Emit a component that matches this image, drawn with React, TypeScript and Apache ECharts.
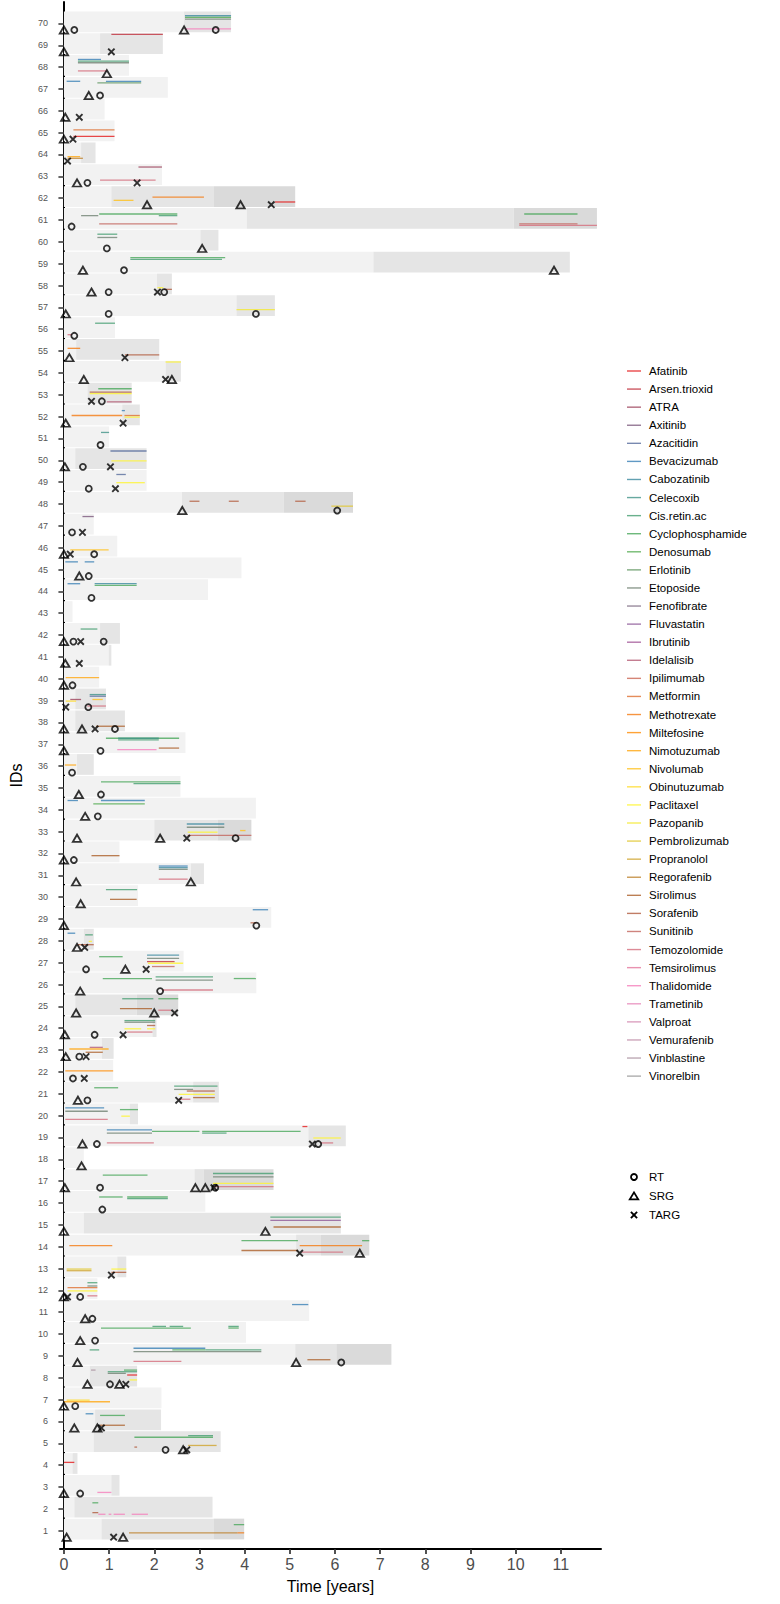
import React, { useEffect, useRef } from "react";
import * as echarts from "echarts";

const drugNames = [
  "Afatinib", "Arsen.trioxid", "ATRA", "Axitinib", "Azacitidin", "Bevacizumab", "Cabozatinib", "Celecoxib",
  "Cis.retin.ac", "Cyclophosphamide", "Denosumab", "Erlotinib", "Etoposide", "Fenofibrate", "Fluvastatin",
  "Ibrutinib", "Idelalisib", "Ipilimumab", "Metformin", "Methotrexate", "Miltefosine", "Nimotuzumab",
  "Nivolumab", "Obinutuzumab", "Paclitaxel", "Pazopanib", "Pembrolizumab", "Propranolol", "Regorafenib",
  "Sirolimus", "Sorafenib", "Sunitinib", "Temozolomide", "Temsirolimus", "Thalidomide", "Trametinib",
  "Valproat", "Vemurafenib", "Vinblastine", "Vinorelbin",
];

const markerNames = ["RT", "SRG", "TARG"];
const xTicks = [0, 1, 2, 3, 4, 5, 6, 7, 8, 9, 10, 11];
const idTicks = Array.from({ length: 70 }, (_, i) => i + 1);

// [id, start, end, level]
const bgSegments: number[][] = [
  [70,0,2.66,0],[70,2.66,3.7,1],
  [69,0,0.8,0],[69,0.8,2.19,1],
  [68,0,1.44,0],
  [67,0,2.3,0],
  [66,0,0.9,0],
  [65,0,1.12,0],
  [64,0,0.38,0],[64,0.38,0.7,1],
  [63,0,2.17,0],
  [62,0,1.05,0],[62,1.05,3.32,1],[62,3.32,5.12,2],
  [61,0,4.05,0],[61,4.05,9.96,1],[61,9.96,11.8,2],
  [60,0,3.02,0],[60,3.02,3.42,1],
  [59,0,6.85,0],[59,6.85,11.2,1],
  [58,0,2.06,0],[58,2.06,2.39,1],
  [57,0,3.82,0],[57,3.82,4.67,1],
  [56,0,1.13,0],
  [55,0,0.27,0],[55,0.27,2.11,1],
  [54,0,2.25,0],[54,2.25,2.59,1],
  [53,0,0.52,0],[53,0.52,1.5,1],
  [52,0,1.29,0],[52,1.29,1.68,1],
  [51,0,1.0,0],
  [50,0,0.25,0],[50,0.25,1.83,1],
  [49,0,1.83,0],
  [48,0,2.61,0],[48,2.61,4.86,1],[48,4.86,6.4,2],
  [47,0,0.66,0],
  [46,0,1.18,0],
  [45,0,3.93,0],
  [44,0,3.19,0],
  [43,0,0.19,0],
  [42,0,0.8,0],[42,0.8,1.24,1],
  [41,0,0.99,0],[41,0.99,1.05,1],
  [40,0,0.78,0],
  [39,0,0.25,0],[39,0.25,0.93,1],
  [38,0,0.25,0],[38,0.25,1.35,1],
  [37,0,2.69,0],
  [36,0,0.29,0],[36,0.29,0.66,1],
  [35,0,2.58,0],
  [34,0,4.25,0],
  [33,0,2.0,0],[33,2.0,3.4,1],[33,3.4,4.15,2],
  [32,0,1.23,0],
  [31,0,2.81,0],[31,2.81,3.1,1],
  [30,0,1.64,0],
  [29,0,4.59,0],
  [28,0,0.44,0],[28,0.44,0.66,1],
  [27,0,2.65,0],
  [26,0,4.26,0],
  [25,0,0.25,0],[25,0.25,1.61,1],[25,1.61,2.53,2],
  [24,0,1.96,0],[24,1.96,2.05,1],
  [23,0,0.84,0],[23,0.84,1.1,1],
  [22,0,1.09,0],
  [21,0,2.86,0],[21,2.86,3.43,1],
  [20,0,1.46,0],[20,1.46,1.64,1],
  [19,0,5.41,0],[19,5.41,6.24,1],
  [18,0,0.44,0],
  [17,0,2.89,0],[17,2.89,3.1,1],[17,3.1,4.64,2],
  [16,0,3.13,0],
  [15,0,0.44,0],[15,0.44,6.13,1],
  [14,0,5.14,0],[14,5.14,5.69,1],[14,5.69,6.76,2],
  [13,0,1.18,0],[13,1.18,1.38,1],
  [12,0,0.74,0],
  [11,0,5.43,0],
  [10,0,4.03,0],
  [9,0,5.12,0],[9,5.12,6.03,1],[9,6.03,7.25,2],
  [8,0,0.57,0],[8,0.57,1.62,1],
  [7,0,2.16,0],
  [6,0,0.69,0],[6,0.69,2.15,1],
  [5,0,0.66,0],[5,0.66,3.47,1],
  [4,0,0.19,0],[4,0.19,0.3,1],
  [3,0,1.05,0],[3,1.05,1.23,1],
  [2,0,0.23,0],[2,0.23,3.29,1],
  [1,0,0.83,0],[1,0.83,3.32,1],[1,3.32,3.99,2],
];

// [id, drug, start, end, lane]
const drugLines: [number, string, number, number, number][] = [
  [70,"Cabozatinib",2.68,3.7,2],[70,"Denosumab",2.68,3.7,3],[70,"Etoposide",2.68,3.7,4],[70,"Thalidomide",2.68,3.7,10],
  [69,"Arsen.trioxid",1.05,2.19,0],
  [68,"Bevacizumab",0.31,0.82,2],[68,"Cis.retin.ac",0.31,1.44,3],[68,"Etoposide",0.31,1.44,4],[68,"Temozolomide",0.31,0.95,9],
  [67,"Bevacizumab",0.06,0.36,2],[67,"Bevacizumab",0.93,1.71,2],[67,"Erlotinib",0.74,1.71,3],
  [65,"Metformin",0.21,1.12,5],[65,"Afatinib",0.21,1.12,9],
  [64,"Nimotuzumab",0.08,0.36,8],[64,"Regorafenib",0.08,0.42,9],
  [63,"ATRA",1.65,2.17,1],[63,"Temozolomide",0.8,2.03,9],
  [62,"Methotrexate",1.96,3.1,6],[62,"Nivolumab",1.1,1.54,8],[62,"Afatinib",4.67,5.12,9],
  [61,"Etoposide",0.38,0.76,4],[61,"Cyclophosphamide",0.78,2.51,3],[61,"Cis.retin.ac",2.1,2.51,4],[61,"Sunitinib",0.78,2.51,9],
  [61,"Cyclophosphamide",10.19,11.37,3],[61,"Sunitinib",10.08,11.37,9],[61,"Temozolomide",10.08,11.8,10],
  [60,"Cis.retin.ac",0.74,1.18,2],[60,"Etoposide",0.74,1.18,4],
  [59,"Cyclophosphamide",1.47,3.57,3],[59,"Cis.retin.ac",1.47,3.5,4],
  [58,"Paclitaxel",2.07,2.2,8],[58,"Sorafenib",2.22,2.39,9],
  [57,"Pazopanib",3.82,4.67,8],
  [56,"Cis.retin.ac",0.69,1.13,3],[56,"Temozolomide",0.08,0.18,10],
  [55,"Methotrexate",0.08,0.36,5],[55,"Sorafenib",1.35,2.11,9],
  [54,"Paclitaxel",2.25,2.59,0],
  [53,"Cyclophosphamide",0.76,1.5,3],[53,"Sorafenib",0.57,1.5,5],[53,"Paclitaxel",0.57,1.5,6],[53,"Idelalisib",0.95,1.5,11],
  [52,"Methotrexate",0.17,1.29,6],[52,"Metformin",1.34,1.68,6],[52,"Bevacizumab",1.28,1.35,3],[52,"Paclitaxel",1.34,1.68,7],
  [51,"Celecoxib",0.82,1.0,3],
  [50,"Azacitidin",1.03,1.83,1],[50,"Paclitaxel",1.05,1.83,7],
  [49,"Azacitidin",1.16,1.37,2],[49,"Paclitaxel",1.16,1.79,7],
  [48,"Sorafenib",2.78,3.0,5],[48,"Sorafenib",3.65,3.87,5],[48,"Sorafenib",5.12,5.35,5],[48,"Pembrolizumab",5.92,6.4,8],
  [47,"Axitinib",0.41,0.66,1],
  [46,"Nivolumab",0.14,0.99,8],
  [45,"Bevacizumab",0.03,0.31,2],[45,"Bevacizumab",0.46,0.67,2],
  [44,"Bevacizumab",0.08,0.36,2],[44,"Cabozatinib",0.68,1.61,2],[44,"Cyclophosphamide",0.68,1.61,3],
  [42,"Cis.retin.ac",0.37,0.74,3],
  [40,"Nimotuzumab",0.04,0.78,6],
  [39,"Celecoxib",0.57,0.93,3],[39,"Azacitidin",0.57,0.93,4],[39,"ATRA",0.14,0.38,6],[39,"Nivolumab",0.63,0.86,6],
  [39,"Obinutuzumab",0.04,0.27,7],[39,"Temozolomide",0.52,0.93,10],
  [38,"Sirolimus",0.71,1.35,9],
  [37,"Cyclophosphamide",0.93,2.55,3],[37,"Cis.retin.ac",1.2,2.1,4],[37,"Celecoxib",1.2,2.1,3],[37,"Thalidomide",1.18,2.05,10],[37,"Sirolimus",2.1,2.55,9],
  [36,"Nimotuzumab",0.02,0.27,6],
  [35,"Cyclophosphamide",0.82,2.58,3],[35,"Cis.retin.ac",1.54,2.58,4],
  [34,"Bevacizumab",0.08,0.31,1],[34,"Bevacizumab",0.82,1.79,1],[34,"Denosumab",0.65,1.79,3],
  [33,"Cabozatinib",2.72,3.55,2],[33,"Etoposide",2.72,3.55,4],[33,"Paclitaxel",2.74,3.4,7],[33,"Nivolumab",3.9,4.02,6],[33,"Sunitinib",2.74,4.15,9],
  [32,"Sirolimus",0.61,1.23,8],
  [31,"Bevacizumab",2.1,2.74,1],[31,"Cabozatinib",2.1,2.74,2],[31,"Etoposide",2.1,2.74,3],[31,"Temozolomide",2.1,2.74,9],
  [30,"Cis.retin.ac",0.93,1.62,2],[30,"Sirolimus",1.02,1.61,8],
  [29,"Bevacizumab",4.18,4.52,1],[29,"Sorafenib",4.13,4.26,9],
  [28,"Bevacizumab",0.08,0.25,2],[28,"Cis.retin.ac",0.47,0.64,3],[28,"Paclitaxel",0.55,0.62,7],[28,"Sorafenib",0.3,0.66,9],
  [27,"Cyclophosphamide",0.78,1.3,3],[27,"Cabozatinib",1.84,2.55,2],[27,"Etoposide",1.84,2.55,4],[27,"Arsen.trioxid",1.84,2.45,6],
  [27,"Paclitaxel",1.86,2.64,7],[27,"Sunitinib",1.95,2.45,9],
  [26,"Cyclophosphamide",0.86,1.95,3],[26,"Cis.retin.ac",2.03,3.3,2],[26,"Etoposide",2.03,3.3,4],[26,"Cyclophosphamide",3.76,4.25,3],[26,"Temozolomide",2.17,3.3,10],
  [25,"Cis.retin.ac",1.29,1.98,2],[25,"Cyclophosphamide",2.09,2.53,2],[25,"Sirolimus",1.24,1.95,8],[25,"Temozolomide",2.09,2.37,9],
  [24,"Cis.retin.ac",1.34,2.02,2],[24,"Etoposide",1.34,2.02,3],[24,"Sorafenib",1.84,2.02,5],[24,"Paclitaxel",1.34,1.71,7],
  [24,"Paclitaxel",1.84,2.02,7],[24,"Temozolomide",1.4,1.96,9],
  [23,"Idelalisib",0.57,0.86,5],[23,"Nimotuzumab",0.12,0.99,6],[23,"Sirolimus",0.48,0.86,8],
  [22,"Miltefosine",0.03,1.09,6],
  [21,"Cyclophosphamide",0.67,1.2,3],[21,"Cis.retin.ac",2.44,3.4,2],[21,"Etoposide",2.44,2.86,4],[21,"Sorafenib",2.72,3.34,5],
  [21,"Paclitaxel",2.54,3.34,7],[21,"Sirolimus",2.86,3.34,9],[21,"Temozolomide",2.54,2.8,10],
  [20,"Bevacizumab",0.03,0.89,2],[20,"Etoposide",0.03,0.97,4],[20,"Cyclophosphamide",1.24,1.64,3],[20,"Paclitaxel",1.27,1.46,7],[20,"Temozolomide",0.03,0.97,9],
  [19,"Bevacizumab",0.95,1.95,2],[19,"Etoposide",0.95,1.95,4],[19,"Cyclophosphamide",1.95,3.0,3],[19,"Cyclophosphamide",3.06,5.24,3],
  [19,"Cis.retin.ac",3.06,3.6,4],[19,"Afatinib",5.28,5.39,0],[19,"Paclitaxel",5.52,6.13,7],[19,"Temozolomide",5.67,5.96,10],[19,"Temozolomide",0.95,1.99,10],
  [17,"Cyclophosphamide",0.86,1.85,3],[17,"Cis.retin.ac",3.3,4.64,2],[17,"Etoposide",3.3,4.64,4],[17,"Paclitaxel",3.3,4.64,8],[17,"Temozolomide",3.3,4.64,10],
  [16,"Cyclophosphamide",0.78,1.3,3],[16,"Cyclophosphamide",1.4,2.3,3],[16,"Cis.retin.ac",1.4,2.3,4],
  [15,"Cis.retin.ac",4.57,6.13,2],[15,"Fluvastatin",4.57,6.13,4],[15,"Sirolimus",4.64,6.13,8],
  [14,"Methotrexate",0.12,1.07,6],[14,"Cyclophosphamide",3.93,5.18,3],[14,"Sirolimus",3.93,5.18,9],[14,"Methotrexate",5.22,6.6,6],
  [14,"Cyclophosphamide",6.6,6.76,3],[14,"Temozolomide",5.26,6.18,10],
  [13,"Pembrolizumab",0.06,0.61,7],[13,"Propranolol",0.06,0.61,8],[13,"Paclitaxel",1.05,1.38,7],[13,"Sorafenib",1.05,1.38,9],
  [12,"Cis.retin.ac",0.52,0.74,2],[12,"Etoposide",0.52,0.74,4],[12,"Metformin",0.08,0.74,5],[12,"Paclitaxel",0.08,0.74,7],[12,"Temozolomide",0.52,0.74,10],
  [11,"Bevacizumab",5.05,5.41,2],
  [10,"Cyclophosphamide",0.82,2.81,3],[10,"Cis.retin.ac",1.96,2.26,2],[10,"Cis.retin.ac",2.34,2.64,2],[10,"Cyclophosphamide",3.64,3.87,3],[10,"Cis.retin.ac",3.64,3.87,2],
  [9,"Cis.retin.ac",0.57,0.78,3],[9,"Bevacizumab",1.54,3.13,2],[9,"Cyclophosphamide",2.4,3.13,3],[9,"Cis.retin.ac",3.13,4.37,3],
  [9,"Etoposide",1.54,4.37,4],[9,"Temozolomide",1.54,2.6,10],[9,"Sirolimus",5.39,5.9,9],
  [8,"Vinblastine",0.6,0.7,2],[8,"Cis.retin.ac",0.97,1.62,3],[8,"Etoposide",0.97,1.37,4],[8,"Cyclophosphamide",1.33,1.62,2],
  [8,"Afatinib",1.4,1.62,5],[8,"Paclitaxel",1.45,1.62,8],
  [7,"Obinutuzumab",0.06,0.57,7],[7,"Nimotuzumab",0.0,1.02,8],
  [6,"Bevacizumab",0.48,0.65,2],[6,"Cyclophosphamide",0.8,1.35,3],[6,"Sirolimus",0.8,1.35,9],
  [5,"Cyclophosphamide",1.56,3.3,3],[5,"Cis.retin.ac",2.75,3.3,2],[5,"Sorafenib",1.56,1.62,9],[5,"Propranolol",2.75,3.38,8],
  [4,"Afatinib",0.0,0.23,5],
  [3,"Thalidomide",0.74,1.05,10],
  [2,"Cyclophosphamide",0.63,0.76,3],[2,"Sorafenib",0.63,0.76,9],[2,"Thalidomide",0.76,0.92,10],[2,"Thalidomide",0.99,1.05,10],
  [2,"Thalidomide",1.1,1.35,10],[2,"Thalidomide",1.5,1.86,10],
  [1,"Cyclophosphamide",3.76,3.99,3],[1,"Regorafenib",1.44,3.84,8],[1,"Methotrexate",3.84,3.99,8],
];

// [id, time]
const rtEvents: number[][] = [
  [70,0.23],[70,3.36],[67,0.8],[63,0.52],[61,0.17],[60,0.95],[59,1.33],[58,0.99],[58,2.22],[57,0.99],[57,4.25],
  [56,0.23],[53,0.84],[51,0.81],[50,0.42],[49,0.55],[48,6.05],[47,0.18],[46,0.67],[45,0.55],[44,0.61],
  [42,0.21],[42,0.88],[40,0.19],[39,0.54],[38,1.13],[37,0.81],[36,0.18],[35,0.82],[34,0.75],[33,3.8],[32,0.22],
  [29,4.26],[27,0.49],[26,2.13],[24,0.68],[23,0.34],[22,0.2],[21,0.52],[19,0.73],[19,5.63],[17,0.8],[17,3.35],
  [16,0.85],[12,0.36],[11,0.63],[10,0.69],[9,6.14],[8,1.02],[7,0.25],[5,2.25],[3,0.36],
];
const srgEvents: number[][] = [
  [70,0.0],[70,2.66],[69,0.0],[68,0.95],[67,0.55],[66,0.03],[65,0.0],[63,0.29],[62,1.84],[62,3.91],[60,3.06],
  [59,0.42],[59,10.85],[58,0.61],[57,0.04],[55,0.12],[54,0.44],[54,2.39],[52,0.04],[50,0.02],[48,2.62],[46,0.0],
  [45,0.34],[42,0.0],[41,0.03],[40,0.0],[38,0.0],[38,0.4],[37,0.0],[35,0.33],[34,0.47],[33,0.29],[33,2.13],
  [32,0.0],[31,0.27],[31,2.81],[30,0.37],[29,0.0],[28,0.29],[27,1.36],[26,0.36],[25,0.27],[25,2.0],[24,0.02],
  [23,0.04],[21,0.31],[19,0.41],[18,0.39],[17,0.02],[17,2.91],[17,3.13],[15,0.0],[15,4.46],[14,6.55],[12,0.0],
  [11,0.47],[10,0.36],[9,0.3],[9,5.14],[8,0.52],[8,1.23],[7,0.0],[6,0.23],[6,0.74],[5,2.64],[3,0.0],[1,0.06],[1,1.31],
];
const targEvents: number[][] = [
  [69,1.05],[66,0.34],[65,0.2],[64,0.08],[63,1.62],[62,4.59],[58,2.07],[55,1.35],[54,2.25],[53,0.61],[52,1.31],
  [50,1.03],[49,1.14],[47,0.41],[46,0.14],[42,0.37],[41,0.34],[39,0.04],[38,0.69],[33,2.72],[28,0.46],[27,1.82],
  [25,2.45],[24,1.31],[23,0.49],[22,0.45],[21,2.54],[19,5.5],[17,3.32],[14,5.22],[13,1.05],[12,0.08],[8,1.37],
  [6,0.83],[5,2.72],[1,1.1],
];

const set1 = ["#E41A1C", "#377EB8", "#4DAF4A", "#984EA3", "#FF7F00", "#FFFF33", "#A65628", "#F781BF", "#999999"];
function rampColors(anchors: string[], n: number): string[] {
  const rgb = anchors.map((h) => [1, 3, 5].map((k) => parseInt(h.slice(k, k + 2), 16)));
  const out: string[] = [];
  for (let i = 0; i < n; i++) {
    const t = (i / (n - 1)) * (anchors.length - 1);
    const j = Math.min(Math.floor(t), anchors.length - 2);
    const f = t - j;
    const c = rgb[j].map((v, k) => Math.round(v + (rgb[j + 1][k] - v) * f));
    out.push(`rgb(${c[0]},${c[1]},${c[2]})`);
  }
  return out;
}
const drugColors = rampColors(set1, drugNames.length);
const bgColors = ["#f2f2f2", "#e5e5e5", "#dadada"];
const FONT = "'Liberation Sans', Arial, Helvetica, sans-serif";
const LINE_OPACITY = 0.8;

export default function App() {
  const ref = useRef<HTMLDivElement>(null);
  useEffect(() => {
    if (!ref.current) return;
    const chart = echarts.init(ref.current, undefined, { renderer: "svg" });

    const lineData = drugLines.map(([id, drug, s, e, lane]) => [id, drugNames.indexOf(drug), s, e, lane]);

    const legendX = 627;
    const legendTop = 371;
    const legendStep = 18.08;
    const textX = legendX + 22;
    const graphics: any[] = [];
    drugNames.forEach((name, i) => {
      const y = legendTop + i * legendStep;
      graphics.push({
        type: "line",
        shape: { x1: legendX, y1: y, x2: legendX + 14, y2: y },
        style: { stroke: drugColors[i], lineWidth: 1.4, opacity: LINE_OPACITY },
      });
      graphics.push({
        type: "text",
        x: textX,
        y,
        style: { text: name, fontSize: 11.5, fontFamily: FONT, fill: "#000", verticalAlign: "middle" },
      });
    });
    const mTop = 1177;
    const mStep = 19;
    const mx = legendX + 7;
    graphics.push({
      type: "circle",
      shape: { cx: mx, cy: mTop, r: 3 },
      style: { fill: "none", stroke: "#000", lineWidth: 1.8 },
    });
    graphics.push({
      type: "polygon",
      shape: { points: [[mx, mTop + mStep - 3.6], [mx + 4.2, mTop + mStep + 3.3], [mx - 4.2, mTop + mStep + 3.3]] },
      style: { fill: "none", stroke: "#000", lineWidth: 1.8 },
    });
    graphics.push({
      type: "line",
      shape: { x1: mx - 3.1, y1: mTop + 2 * mStep - 3.1, x2: mx + 3.1, y2: mTop + 2 * mStep + 3.1 },
      style: { stroke: "#000", lineWidth: 1.9 },
    });
    graphics.push({
      type: "line",
      shape: { x1: mx - 3.1, y1: mTop + 2 * mStep + 3.1, x2: mx + 3.1, y2: mTop + 2 * mStep - 3.1 },
      style: { stroke: "#000", lineWidth: 1.9 },
    });
    markerNames.forEach((name, i) => {
      graphics.push({
        type: "text",
        x: textX,
        y: mTop + i * mStep,
        style: { text: name, fontSize: 11.5, fontFamily: FONT, fill: "#000", verticalAlign: "middle" },
      });
    });

    const option: any = {
      animation: false,
      backgroundColor: "#ffffff",
      grid: { left: 49.3, top: 2, width: 551.7, height: 1547, containLabel: false },
      xAxis: {
        type: "value",
        min: -0.087,
        max: 11.89,
        name: "Time [years]",
        nameLocation: "middle",
        nameGap: 29,
        nameTextStyle: { fontSize: 16, fontFamily: FONT, color: "#000" },
        axisLine: { show: true, lineStyle: { color: "#000", width: 2 } },
        axisTick: { show: true, length: 5, lineStyle: { color: "#333", width: 1.7 }, customValues: xTicks },
        axisLabel: { fontSize: 16, fontFamily: FONT, color: "#4d4d4d", margin: 7, customValues: xTicks },
        splitLine: { show: false },
      },
      yAxis: {
        type: "value",
        min: 0.16,
        max: 70.98,
        name: "IDs",
        nameLocation: "middle",
        nameGap: 36,
        nameRotate: 90,
        nameTextStyle: { fontSize: 16, fontFamily: FONT, color: "#000" },
        axisLine: { show: true, lineStyle: { color: "#000", width: 2 } },
        axisTick: { show: true, length: 5.5, lineStyle: { color: "#333", width: 1.5 }, customValues: idTicks },
        axisLabel: { fontSize: 9, fontFamily: FONT, color: "#555", margin: 12, customValues: idTicks },
        splitLine: { show: false },
      },
      series: [
        {
          type: "custom",
          name: "background",
          z: 1,
          silent: true,
          data: bgSegments,
          encode: { x: [1, 2], y: 0 },
          renderItem: (params: any, api: any) => {
            const id = api.value(0);
            const p1 = api.coord([api.value(1), id + 0.55]);
            const p2 = api.coord([api.value(2), id - 0.4]);
            return {
              type: "rect",
              shape: { x: p1[0], y: p1[1], width: p2[0] - p1[0], height: p2[1] - p1[1] },
              style: { fill: bgColors[api.value(3)] },
            };
          },
        },
        {
          type: "custom",
          name: "drugs",
          z: 2,
          silent: true,
          data: lineData,
          encode: { x: [2, 3], y: 0 },
          renderItem: (params: any, api: any) => {
            const id = api.value(0);
            const y = id + 0.5 - api.value(4) * 0.075;
            const p1 = api.coord([api.value(2), y]);
            const p2 = api.coord([api.value(3), y]);
            return {
              type: "line",
              shape: { x1: p1[0], y1: p1[1], x2: p2[0], y2: p2[1] },
              style: { stroke: drugColors[api.value(1)], lineWidth: 1.3, opacity: LINE_OPACITY },
            };
          },
        },
        {
          type: "scatter",
          name: "RT",
          z: 3,
          symbol: "circle",
          symbolSize: 6,
          itemStyle: { color: "transparent", borderColor: "#000", borderWidth: 1.8 },
          data: rtEvents.map(([id, t]) => [t, id - 0.3]),
        },
        {
          type: "scatter",
          name: "SRG",
          z: 3,
          symbol: "triangle",
          symbolSize: [8.4, 7.2],
          itemStyle: { color: "transparent", borderColor: "#000", borderWidth: 1.8 },
          data: srgEvents.map(([id, t]) => [t, id - 0.3]),
        },
        {
          type: "scatter",
          name: "TARG",
          z: 3,
          symbol: "path://M0,0L10,10M10,0L0,10",
          symbolSize: 6.4,
          itemStyle: { color: "transparent", borderColor: "#000", borderWidth: 1.9 },
          data: targEvents.map(([id, t]) => [t, id - 0.3]),
        },
      ],
      graphic: graphics,
    };
    chart.setOption(option);
    return () => chart.dispose();
  }, []);
  return (
    <div
      ref={ref}
      style={{ position: "absolute", left: 0, top: 0, width: 780, height: 1604, background: "#fff" }}
    />
  );
}
